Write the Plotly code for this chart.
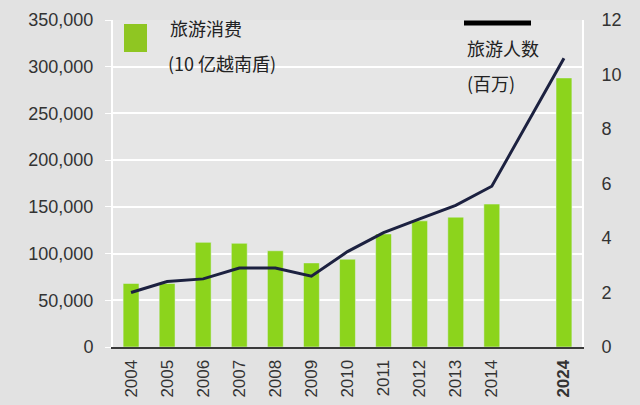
import plotly.graph_objects as go

categories = ["2004", "2005", "2006", "2007", "2008", "2009", "2010",
              "2011", "2012", "2013", "2014", " ", "2024"]
tick_labels = ["2004", "2005", "2006", "2007", "2008", "2009", "2010",
               "2011", "2012", "2013", "2014", "", "<b>2024</b>"]
spending = [68000, 68000, 112000, 111000, 103000, 90000, 94000,
            121000, 135000, 139000, 153000, None, 288000]
line_years = ["2004", "2005", "2006", "2007", "2008", "2009", "2010",
              "2011", "2012", "2013", "2014", "2024"]
visitors = [2.0, 2.4, 2.5, 2.9, 2.9, 2.6, 3.5, 4.2, 4.7, 5.2, 5.9, 10.6]

left_ticks = [0, 50000, 100000, 150000, 200000, 250000, 300000, 350000]
left_tick_text = ["0", "50,000", "100,000", "150,000", "200,000",
                  "250,000", "300,000", "350,000"]
right_ticks = [0, 2, 4, 6, 8, 10, 12]

FONT = "Liberation Sans, Arial, Helvetica, sans-serif"
CJK = "Noto Sans CJK SC, sans-serif"
GREEN = "#8cd41c"

fig = go.Figure()
fig.add_trace(go.Bar(x=categories, y=spending, marker_color=GREEN,
                     width=0.44, showlegend=False, yaxis="y"))
fig.add_trace(go.Scatter(x=line_years, y=visitors, mode="lines",
                         line=dict(color="#1c2140", width=3),
                         showlegend=False, yaxis="y2"))

fig.update_layout(
    width=640, height=405,
    margin=dict(l=113, r=58, t=20, b=58, autoexpand=False),
    paper_bgcolor="#e2e2e2",
    plot_bgcolor="#e6e6e6",
    font=dict(family=FONT, size=18, color="#333333"),
    xaxis=dict(type="category", categoryorder="array", categoryarray=categories,
               tickvals=categories, ticktext=tick_labels, tickangle=-90,
               showline=True, linecolor="#3a3a3a", linewidth=2,
               showgrid=False, ticks="", ticklabelstandoff=4,
               automargin=False,
               tickfont=dict(size=17, color="#333333"),
               range=[-0.5, 12.5], fixedrange=True),
    yaxis=dict(range=[0, 350000], tickvals=left_ticks, ticktext=left_tick_text,
               showgrid=True, gridcolor="#ffffff", gridwidth=1.5,
               showline=True, linecolor="#ffffff", linewidth=2,
               ticks="outside", ticklen=6, tickcolor="#ffffff",
               ticklabelstandoff=8, zeroline=False, automargin=False,
               tickfont=dict(size=18, color="#333333")),
    yaxis2=dict(range=[0, 12], tickvals=right_ticks, overlaying="y", side="right",
                showgrid=False, showline=True, linecolor="#ffffff", linewidth=2,
                ticks="", ticklabelstandoff=14, zeroline=False, automargin=False,
                tickfont=dict(size=18, color="#333333")),
    bargap=0.56,
)

# legend for bars
fig.add_shape(type="rect", xref="paper", yref="paper",
              x0=(124 - 113) / 469, x1=(147 - 113) / 469,
              y0=(347 - 52) / 327, y1=(347 - 24) / 327,
              fillcolor="#8fc622", line=dict(width=0))
fig.add_annotation(text="旅游消费", xref="paper", yref="paper",
                   x=(168 - 113) / 469, y=(347 - 28) / 327,
                   xanchor="left", yanchor="middle", showarrow=False,
                   font=dict(family=CJK, size=18, color="#222222"))
fig.add_annotation(text="(10 亿越南盾)", xref="paper", yref="paper",
                   x=(166 - 113) / 469, y=(347 - 63) / 327,
                   xanchor="left", yanchor="middle", showarrow=False,
                   font=dict(family=CJK, size=18, color="#222222"))
# legend for line
fig.add_shape(type="line", xref="paper", yref="paper",
              x0=(464 - 113) / 469, x1=(531 - 113) / 469,
              y0=(347 - 23) / 327, y1=(347 - 23) / 327,
              line=dict(color="#000000", width=5))
fig.add_annotation(text="旅游人数", xref="paper", yref="paper",
                   x=(465 - 113) / 469, y=(347 - 48) / 327,
                   xanchor="left", yanchor="middle", showarrow=False,
                   font=dict(family=CJK, size=18, color="#222222"))
fig.add_annotation(text="(百万)", xref="paper", yref="paper",
                   x=(465 - 113) / 469, y=(347 - 83) / 327,
                   xanchor="left", yanchor="middle", showarrow=False,
                   font=dict(family=CJK, size=18, color="#222222"))

fig.write_html("out.html")
